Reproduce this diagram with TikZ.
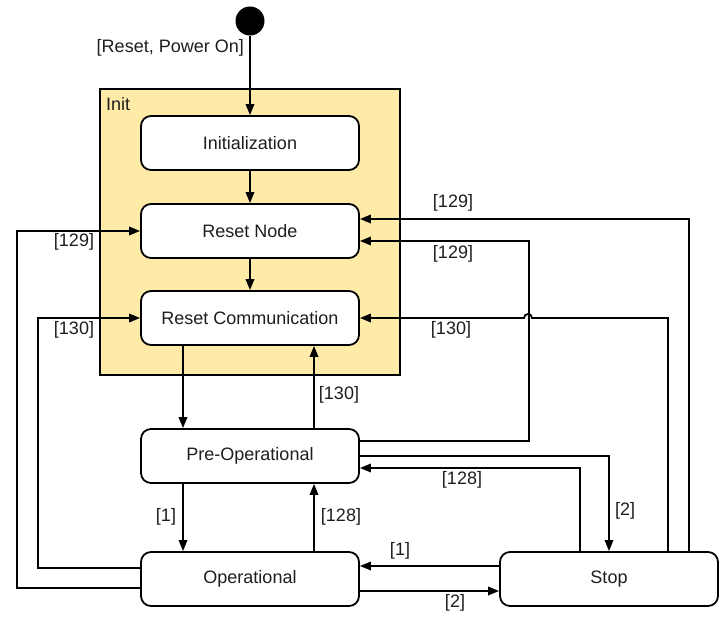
\documentclass[tikz,border=0pt]{standalone}
\usepackage{fontspec}
\setmainfont{Liberation Sans}
\usetikzlibrary{arrows.meta}
\definecolor{initfill}{RGB}{255,235,168}
\definecolor{txt}{RGB}{30,30,30}
\begin{document}
\begin{tikzpicture}[x=1pt,y=-1pt,
  every node/.style={font=\fontsize{18}{21}\selectfont, text=txt},
  statebox/.style={draw=black, line width=1.8pt, rounded corners=10pt, fill=white,
    minimum width=218pt, minimum height=54pt, inner sep=0pt},
  groupbox/.style={draw=black, line width=1.8pt, fill=initfill,
    minimum width=300pt, minimum height=286pt, inner sep=0pt},
  conn/.style={draw=black, line width=1.8pt},
  arr/.style={conn, -{Triangle[length=11pt,width=8.5pt]}},
  lbl/.style={inner sep=0pt}]
\useasboundingbox (0,0) rectangle (720,617);
% group
\node[groupbox] (initbox) at (250,232) {};
\node[lbl, anchor=west] (initlbl) at (106,104) {Init};
% start
\node[circle, fill=black, minimum size=29pt, inner sep=0pt] (start) at (250,21) {};
\node[lbl, anchor=east] (startlbl) at (244,48) {[Reset, Power On]};
% states
\node[statebox] (initz) at (250,143) {Initialization};
\node[statebox] (rnode) at (250,231) {Reset Node};
\node[statebox] (rcomm) at (250,318) {Reset Communication};
\node[statebox] (preop) at (250,456) {Pre-Operational};
\node[statebox] (oper) at (250,579) {Operational};
\node[statebox] (stop) at (609,579) {Stop};
% connectors
\draw[arr] (start) -- (initz);
\draw[arr] (initz) -- (rnode);
\draw[arr] (rnode) -- (rcomm);
\draw[arr] ([xshift=-67pt]rcomm.south) -- ([xshift=-67pt]preop.north);
\draw[arr] ([xshift=64pt]preop.north) -- ([xshift=64pt]rcomm.south);
\node[lbl] (l130a) at (339,395) {[130]};
\draw[arr] ([xshift=-67pt]preop.south) -- ([xshift=-67pt]oper.north);
\node[lbl] (l1a) at (166,517) {[1]};
\draw[arr] ([xshift=64pt]oper.north) -- ([xshift=64pt]preop.south);
\node[lbl] (l128a) at (341,517) {[128]};
\draw[arr] ([yshift=-12pt]oper.east) -- ([yshift=-12pt]stop.west);
\node[lbl] (l2a) at (455,603) {[2]};
\draw[arr] ([yshift=13pt]stop.west) -- ([yshift=13pt]oper.east);
\node[lbl] (l1b) at (400,551) {[1]};
\draw[arr] ([yshift=15pt]preop.east) -- ++(169,0) |- ([yshift=-10pt]rnode.east);
\node[lbl] (l129b) at (453,254) {[129]};
\draw[arr] (preop.east) -| (stop.north);
\node[lbl] (l2b) at (625,511) {[2]};
\draw[arr] ([xshift=-29pt]stop.north) |- ([yshift=-12pt]preop.east);
\node[lbl] (l128b) at (462,480) {[128]};
\draw[arr] ([xshift=80pt]stop.north) |- ([yshift=12pt]rnode.east);
\node[lbl] (l129a) at (453,203) {[129]};
\draw[arr] ([xshift=59pt]stop.north) |- (532,318) arc[start angle=0, end angle=180, radius=4pt] -- (rcomm.east);
\node[lbl] (l130b) at (451,330) {[130]};
\draw[arr] ([yshift=-9pt]oper.west) -- ++(-123,0) |- (rnode.west);
\node[lbl] (l129c) at (74,242) {[129]};
\draw[arr] ([yshift=11pt]oper.west) -- ++(-102,0) |- (rcomm.west);
\node[lbl] (l130c) at (74,330) {[130]};
\end{tikzpicture}
\end{document}
